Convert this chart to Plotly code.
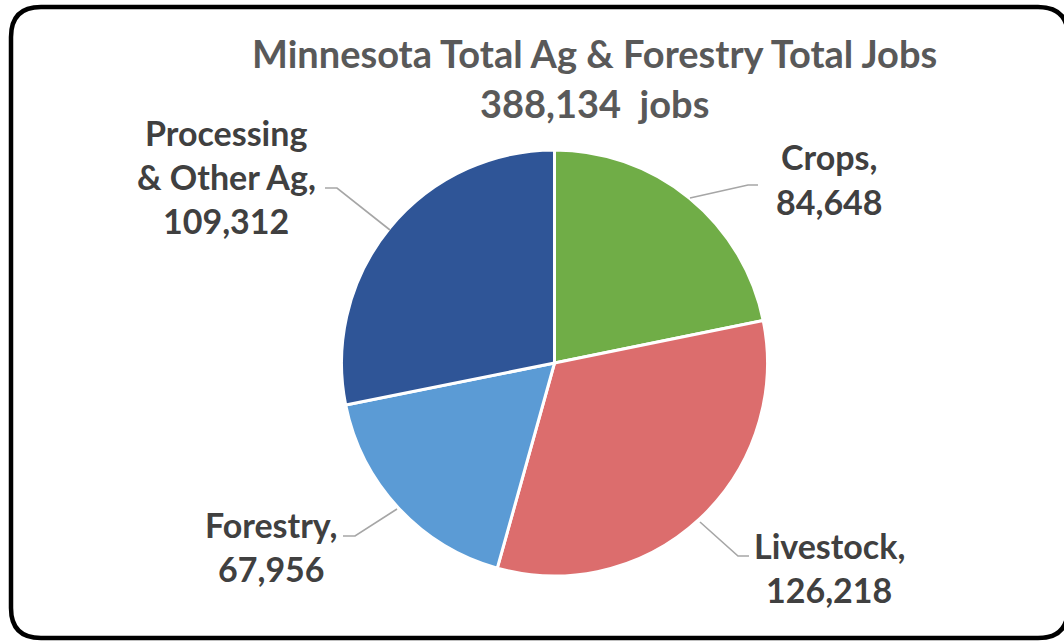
import plotly.graph_objects as go

# ---- data ----
categories = ["Crops", "Livestock", "Forestry", "Processing<br>& Other Ag"]
values = [84648, 126218, 67956, 109312]
colors = ["#70AD47", "#DC6D6D", "#5B9BD5", "#2F5597"]
title_line1 = "Minnesota Total Ag & Forestry Total Jobs"
total_jobs = sum(values)

W, H = 1064, 642


def px(x):
    return x / W


def py(y):
    return 1 - y / H


fig = go.Figure()

cx, cy, r = 554.5, 363.0, 213.0
fig.add_trace(go.Pie(
    labels=[c.replace("<br>", " ") for c in categories],
    values=values,
    sort=False,
    direction="clockwise",
    rotation=0,
    marker=dict(colors=colors, line=dict(color="white", width=3)),
    textinfo="none",
    domain=dict(x=[px(cx - r), px(cx + r)], y=[py(cy + r), py(cy - r)]),
    showlegend=False,
))

annotations = []
# title
title_font = dict(family="Lato", size=38, color="#595959")
annotations.append(dict(text="<b>" + title_line1 + "</b>", x=px(594), y=py(53),
                        xref="paper", yref="paper", showarrow=False,
                        xanchor="center", yanchor="middle", font=title_font))
annotations.append(dict(text="<b>" + f"{total_jobs:,}" + "&nbsp;&nbsp;jobs</b>", x=px(594), y=py(103),
                        xref="paper", yref="paper", showarrow=False,
                        xanchor="center", yanchor="middle", font=title_font))

# data labels (positions of first line, center)
label_pos = [(829, 157), (829, 545), (271, 524), (226, 132)]
line_gap = 44
label_font = dict(family="Lato", size=34, color="#404040")
for cat, val, (lx, ly) in zip(categories, values, label_pos):
    lines = cat.split("<br>")
    lines[-1] = lines[-1] + ","
    lines.append(f"{val:,}")
    for i, t in enumerate(lines):
        annotations.append(dict(text="<b>" + t + "</b>", x=px(lx), y=py(ly + i * line_gap),
                                xref="paper", yref="paper", showarrow=False,
                                xanchor="center", yanchor="middle", font=label_font))

shapes = []
# leader lines
leaders = [
    [(690, 198), (748, 185), (758, 185)],
    [(700, 522), (738, 556), (749, 556)],
    [(397, 509), (355, 536), (343, 536)],
    [(390, 230), (337, 188), (325, 188)],
]
for pts in leaders:
    d = "M " + " L ".join(f"{px(x)},{py(y)}" for x, y in pts)
    shapes.append(dict(type="path", path=d, xref="paper", yref="paper",
                       line=dict(color="#A6A6A6", width=1.6)))

# rounded border
L, T, R, B, rr = 11, 7, 1068, 638, 30
pts = [
    ("M", [(L + rr, T)]),
    ("L", [(R - rr, T)]),
    ("Q", [(R, T), (R, T + rr)]),
    ("L", [(R, B - rr)]),
    ("Q", [(R, B), (R - rr, B)]),
    ("L", [(L + rr, B)]),
    ("Q", [(L, B), (L, B - rr)]),
    ("L", [(L, T + rr)]),
    ("Q", [(L, T), (L + rr, T)]),
]
d = " ".join(cmd + " " + " ".join(f"{px(x)},{py(y)}" for x, y in p) for cmd, p in pts) + " Z"
shapes.append(dict(type="path", path=d, xref="paper", yref="paper",
                   line=dict(color="black", width=4.5)))

fig.update_layout(
    width=W, height=H,
    margin=dict(l=0, r=0, t=0, b=0),
    paper_bgcolor="white", plot_bgcolor="white",
    annotations=annotations,
    shapes=shapes,
)

fig.write_html("out.html", config={"displayModeBar": False},
               post_script="document.body.style.margin='0px';document.body.style.padding='0px';document.body.style.overflow='hidden';")
